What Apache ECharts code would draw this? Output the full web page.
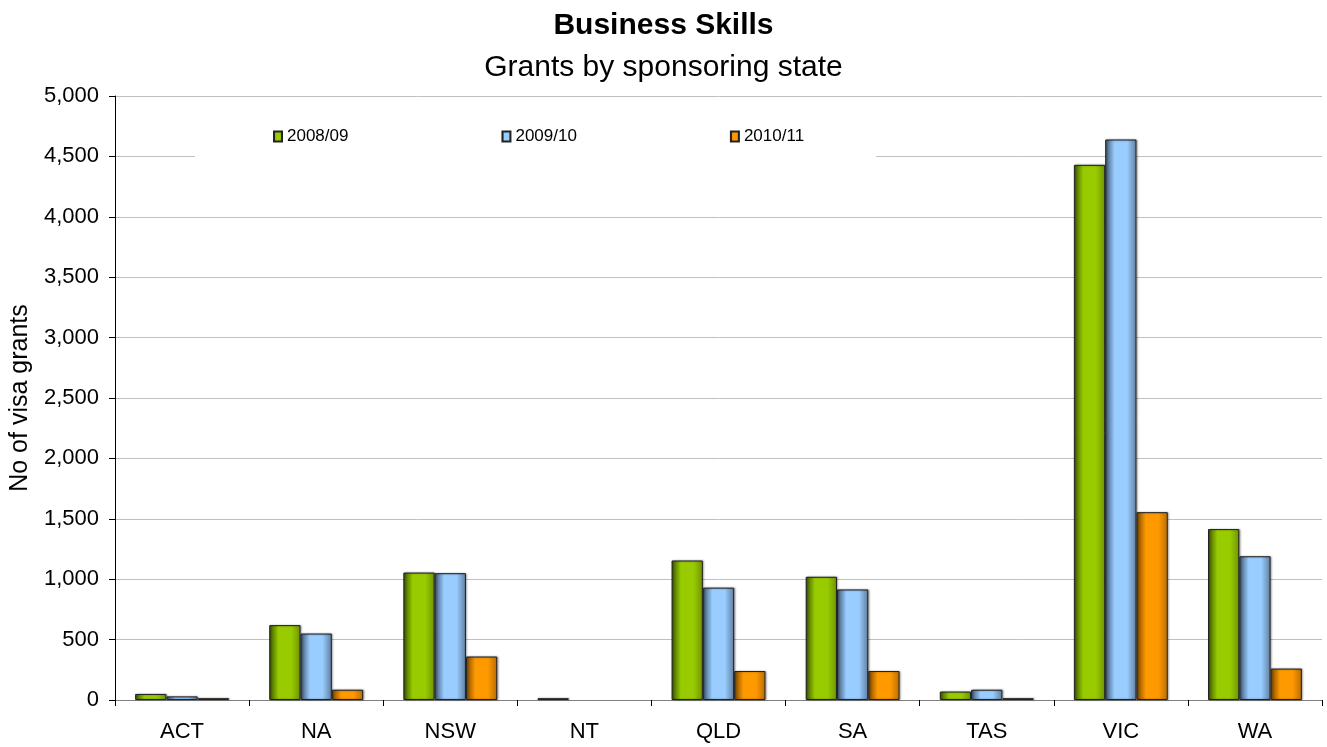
<!DOCTYPE html>
<html><head><meta charset="utf-8">
<script src="https://cdn.jsdelivr.net/npm/echarts@6/dist/echarts.min.js"></script>
<style>html,body{margin:0;padding:0;background:#fff}#c{width:1327px;height:747px}</style>
</head><body><div id="c"></div>
<script>
const categories = ['ACT','NA','NSW','NT','QLD','SA','TAS','VIC','WA'];
const seriesNames = ['2008/09','2009/10','2010/11'];
const v2008 = [50, 620, 1055, 15, 1155, 1020, 70, 4430, 1415];
const v2009 = [30, 550, 1050, 0, 930, 915, 85, 4640, 1190];
const v2010 = [15, 85, 360, 0, 240, 240, 15, 1555, 260];
const yTicks = {min: 0, max: 5000, interval: 500};

function grad(dark, mid, right){
  return new echarts.graphic.LinearGradient(0,0,1,0,[
    {offset:0,color:dark},{offset:0.3,color:mid},{offset:0.7,color:mid},{offset:1,color:right}]);
}
const styles = [
  {fill: grad('#3d5800','#99cc00','#6f9400'), legend:'#99cc00'},
  {fill: grad('#3e5670','#99ccff','#5f7f9f'), legend:'#99ccff'},
  {fill: grad('#7a4800','#ff9900','#b86e00'), legend:'#ff9900'}
];
const fmt = v => String(v).replace(/\B(?=(\d{3})+(?!\d))/g, ',');
const chart = echarts.init(document.getElementById('c'));
const font = 'Liberation Sans, Arial, sans-serif';
chart.setOption({
  animation:false,
  textStyle:{fontFamily:font},
  title:[
    {text:'Business Skills', left:'center', top:6, textStyle:{fontFamily:font,fontSize:30,fontWeight:'bold',color:'#000'}},
    {text:'Grants by sponsoring state', left:'center', top:48, textStyle:{fontFamily:font,fontSize:30,fontWeight:'normal',color:'#000'}}
  ],
  legend:{
    data: seriesNames,
    left:195, top:118, padding:[10,72,13,78], itemGap:153,
    backgroundColor:'#fff', icon:'rect', itemWidth:8, itemHeight:10,
    textStyle:{fontFamily:font,fontSize:17,color:'#000'}, z:10
  },
  grid:{left:115, right:5, top:96, bottom:47, containLabel:false, outerBoundsMode:'none'},
  xAxis:{
    type:'category', data:categories,
    axisLine:{lineStyle:{color:'#808080',width:1}},
    axisTick:{show:true,length:6,lineStyle:{color:'#000'}},
    axisLabel:{fontFamily:font,fontSize:22,color:'#000',margin:21}
  },
  yAxis:{
    type:'value', min:yTicks.min, max:yTicks.max, interval:yTicks.interval,
    name:'No of visa grants', nameLocation:'middle', nameGap:80, nameRotate:90,
    nameTextStyle:{fontFamily:font,fontSize:25,color:'#000'},
    axisLine:{show:true,lineStyle:{color:'#000',width:1}},
    axisTick:{show:true,length:6,lineStyle:{color:'#000'}},
    axisLabel:{fontFamily:font,fontSize:22,color:'#000',margin:16,formatter:fmt},
    splitLine:{lineStyle:{color:'#c0c0c0',width:1}}
  },
  series:[v2008,v2009,v2010].map((d,i)=>({
    name:seriesNames[i], type:'bar', data:d.map(v => v === 0 ? null : v),
    barGap:'0%', barCategoryGap:'30%',
    color: styles[i].legend,
    itemStyle:{color:styles[i].fill, borderColor:'#222', borderWidth:1,
      shadowColor:'rgba(0,0,0,0.35)', shadowBlur:2, shadowOffsetX:1, shadowOffsetY:0}
  }))
});
</script></body></html>
